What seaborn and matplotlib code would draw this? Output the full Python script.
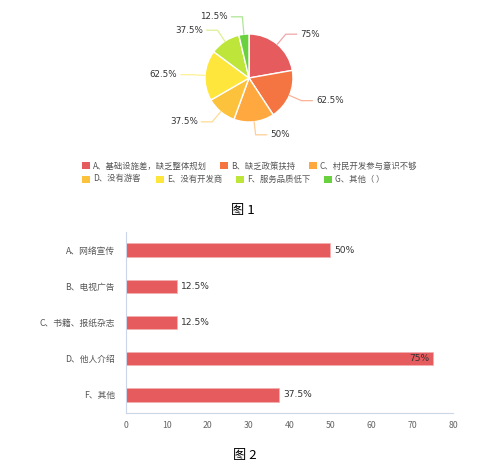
import numpy as np
import pandas as pd
import matplotlib
matplotlib.use("Agg")
import matplotlib.pyplot as plt
import seaborn as sns

sns.set_theme(style="white")
plt.rcParams['font.family'] = ['Noto Sans CJK SC', 'DejaVu Sans']

# ---------------- data ----------------
pie_labels = ["A、基础设施差，缺乏整体规划", "B、缺乏政策扶持", "C、村民开发参与意识不够",
              "D、没有游客", "E、没有开发商", "F、服务品质低下", "G、其他（ ）"]
pie_values = [75, 62.5, 50, 37.5, 62.5, 37.5, 12.5]
pie_value_text = ["75%", "62.5%", "50%", "37.5%", "62.5%", "37.5%", "12.5%"]
pie_colors = ["#e55b5e", "#f47442", "#fea83f", "#fdc23c", "#ffe63c", "#bde53a", "#6ad13e"]

bar_categories = ["A、网络宣传", "B、电视广告", "C、书籍、报纸杂志", "D、他人介绍", "F、其他"]
bar_values = [50, 12.5, 12.5, 75, 37.5]
bar_value_text = ["50%", "12.5%", "12.5%", "75%", "37.5%"]
x_ticks = [0, 10, 20, 30, 40, 50, 60, 70, 80]

W, H = 500, 470
fig = plt.figure(figsize=(5.0, 4.7), dpi=100)

def fx(px):
    return px / W

def fy(py):
    return 1 - py / H

# ---------------- pie ----------------
cx, cy, R = 249, 78, 44
boxw, boxh = 220, 156
axp = fig.add_axes([fx(cx - boxw / 2), fy(cy + boxh / 2), boxw / W, boxh / H])
wedges, _ = axp.pie(pie_values, colors=pie_colors, startangle=90, counterclock=False,
                    wedgeprops=dict(edgecolor="white", linewidth=1.0))
axp.set_xlim(-boxw / 2 / R, boxw / 2 / R)
axp.set_ylim(-boxh / 2 / R, boxh / 2 / R)
axp.set_aspect("equal")
axp.axis("off")

def lighten(c, f=0.45):
    r, g, b = matplotlib.colors.to_rgb(c)
    return (r + (1 - r) * f, g + (1 - g) * f, b + (1 - b) * f)

for w, txt, col in zip(wedges, pie_value_text, pie_colors):
    mid = np.deg2rad((w.theta1 + w.theta2) / 2)
    ca, sa = np.cos(mid), np.sin(mid)
    p0 = (1.0 * ca, 1.0 * sa)
    p1 = (1.3 * ca, 1.3 * sa + (0.1 if sa > 0.9 else 0.0))
    side = 1 if ca >= 0 else -1
    p2 = (p1[0] + side * 0.25, p1[1])
    axp.plot([p0[0], p1[0], p2[0]], [p0[1], p1[1], p2[1]], color=lighten(col), lw=0.9,
             solid_joinstyle="round")
    axp.text(p2[0] + side * 0.08, p2[1], txt, ha="left" if side > 0 else "right",
             va="center", fontsize=6.3, color="#333333", family=["DejaVu Sans"])

# legend (flow layout)
leg_rows = [[0, 1, 2], [3, 4, 5, 6]]
leg_x = [[82, 220, 309], [82, 156, 236, 324]]
leg_y = [166, 179]
for row, xs, ly in zip(leg_rows, leg_x, leg_y):
    for i, lx in zip(row, xs):
        fig.patches.append(matplotlib.patches.Rectangle(
            (fx(lx), fy(ly + 3.5)), 8 / W, 7 / H, transform=fig.transFigure,
            facecolor=pie_colors[i], edgecolor="none"))
        fig.text(fx(lx + 11), fy(ly), pie_labels[i], fontsize=6.0, color="#555555",
                 va="center", ha="left")

fig.text(fx(243), fy(211), "图 1", fontsize=9.5, color="black", ha="center", va="center")

# ---------------- bar chart ----------------
axb = fig.add_axes([fx(126), fy(413), 327 / W, 181 / H])
df = pd.DataFrame({"cat": bar_categories, "val": bar_values})
sns.barplot(data=df, x="val", y="cat", orient="h", color="#e55b5e", width=0.37,
            edgecolor="#f3b0b0", linewidth=0.6, saturation=1, ax=axb)
axb.set_xlim(0, 80)
axb.set_ylim(len(bar_categories) - 0.5, -0.5)
axb.set_xticks(x_ticks)
axb.set_xticklabels([str(t) for t in x_ticks])
axb.set_xlabel("")
axb.set_ylabel("")
axb.tick_params(axis="x", length=0, labelsize=6.3, labelcolor="#666666", pad=6)
axb.tick_params(axis="y", which="major", length=0, labelsize=6.3, labelcolor="#555555", pad=8)
axb.set_yticks(np.arange(-0.5, len(bar_categories), 1.0), minor=True)
axb.tick_params(axis="y", which="minor", length=4, color="#ccd6eb", width=0.8)
for s in ["top", "right"]:
    axb.spines[s].set_visible(False)
axb.spines["left"].set_color("#ccd6eb")
axb.spines["bottom"].set_color("#ccd6eb")
axb.spines["left"].set_linewidth(0.8)
axb.spines["bottom"].set_linewidth(0.8)

for i, (v, t) in enumerate(zip(bar_values, bar_value_text)):
    if v > 70:
        axb.text(v - 0.8, i, t, ha="right", va="center", fontsize=6.6, color="#333333",
                 family=["DejaVu Sans"])
    else:
        axb.text(v + 1.0, i, t, ha="left", va="center", fontsize=6.6, color="#333333",
                 family=["DejaVu Sans"])

fig.text(fx(245), fy(455), "图 2", fontsize=9.5, color="black", ha="center", va="center")

fig.savefig("out.png", dpi=100, facecolor="white")
